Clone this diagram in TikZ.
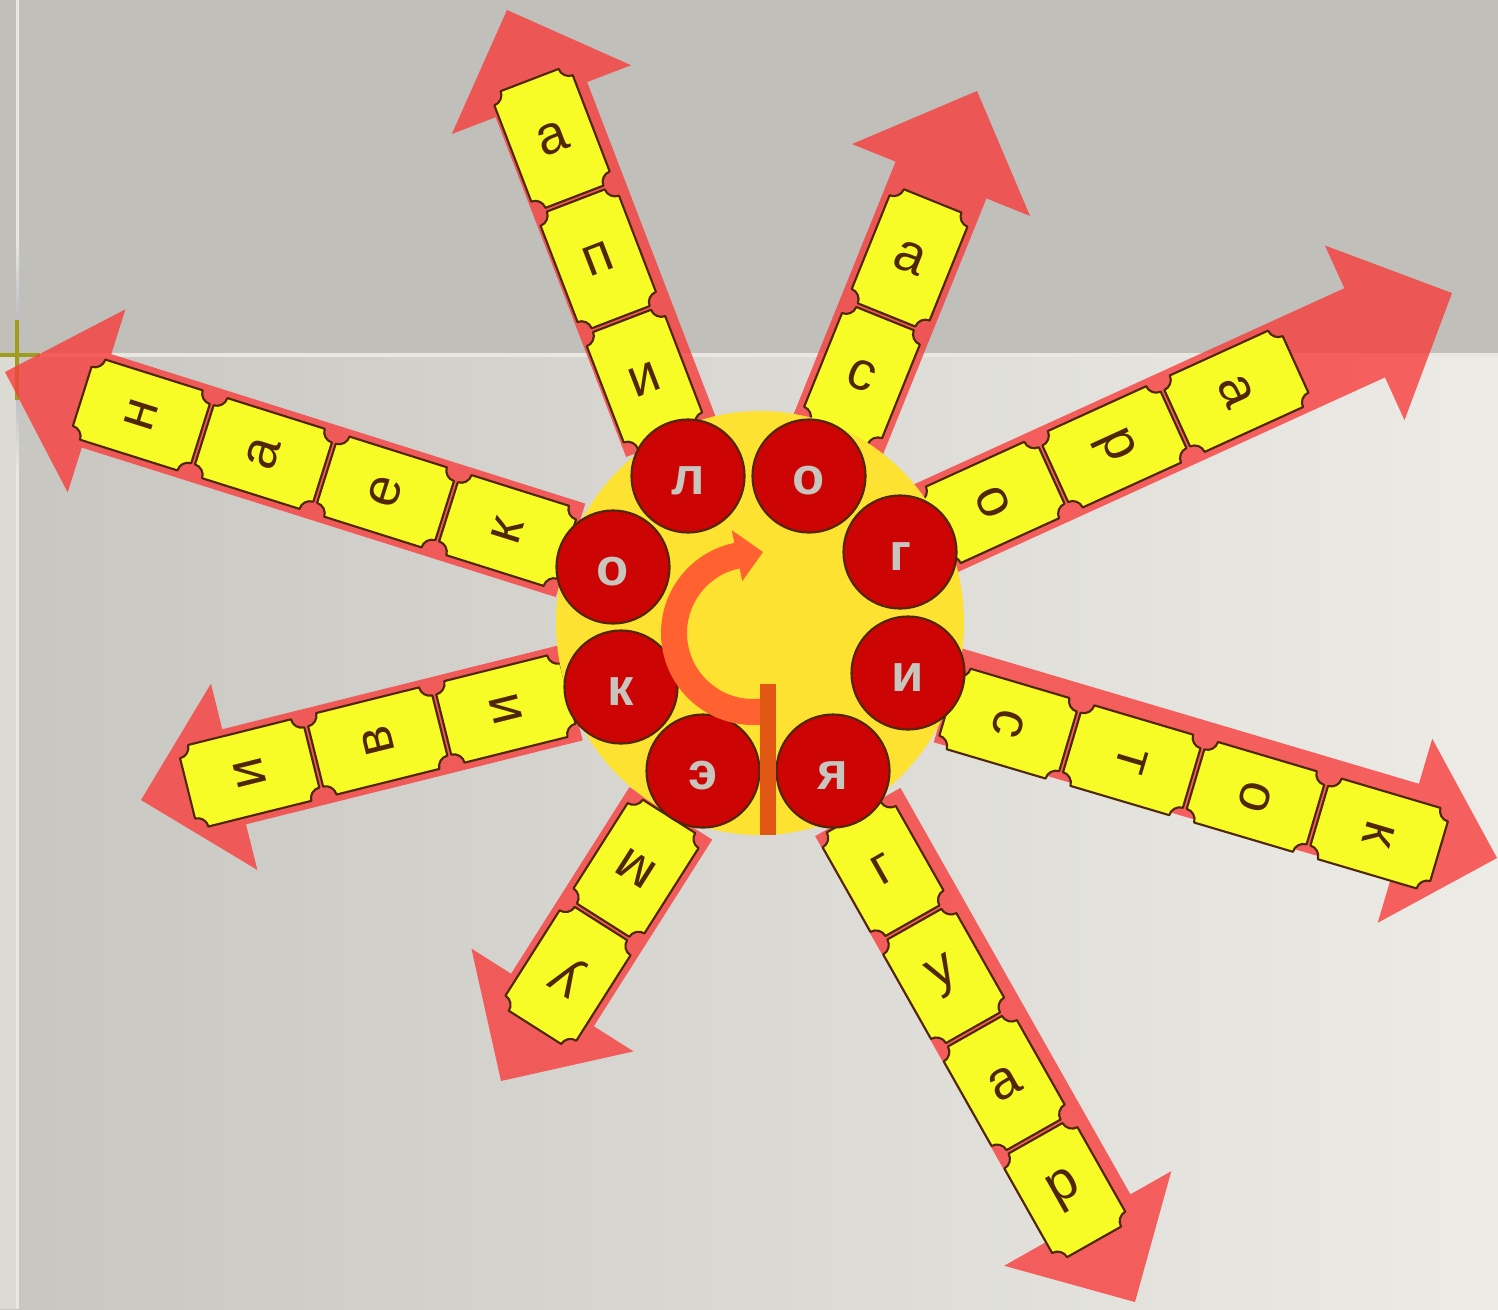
\documentclass[tikz,border=0pt]{standalone}
\usepackage{fontspec}
\setmainfont{Liberation Sans}
\usetikzlibrary{calc}
\definecolor{topgray}{RGB}{192,191,186}
\definecolor{lowleft}{RGB}{199,198,192}
\definecolor{lowright}{RGB}{236,235,229}
\definecolor{stripgray}{RGB}{220,219,211}
\definecolor{linelight}{RGB}{232,231,226}
\definecolor{guideblue}{RGB}{168,170,184}
\definecolor{guideolive}{RGB}{160,156,30}
\definecolor{rayred}{RGB}{248,62,62}
\definecolor{tileyellow}{RGB}{247,252,38}
\definecolor{darkbrown}{RGB}{80,38,5}
\definecolor{discyellow}{RGB}{254,226,50}
\definecolor{circlered}{RGB}{204,4,4}
\definecolor{lettergray}{RGB}{200,196,190}
\definecolor{swirlorange}{RGB}{255,98,48}
\definecolor{barorange}{RGB}{224,88,20}
\tikzset{
  rayshape/.style={fill=rayred, fill opacity=0.8},
  tileshape/.style={fill=tileyellow, draw=darkbrown, line width=0.6pt, line join=round},
  tileletter/.style={text=darkbrown, inner sep=0pt, font=\fontsize{15.5}{18}\selectfont},
  letterdisc/.style={circle, fill=circlered, draw=darkbrown, line width=0.6pt,
    minimum size=1.13cm, inner sep=0pt, text height=0.37cm, text depth=0cm,
    text=lettergray, font=\bfseries\fontsize{15}{18}\selectfont},
}
% ticket with cut corners, centred on the current origin
\newcommand{\drawtile}[1]{%
  \draw[tileshape] (-#1+11,-42) -- (#1-11,-42) arc[start angle=180, end angle=90, radius=11]
    -- (#1,31) arc[start angle=270, end angle=180, radius=11]
    -- (-#1+11,42) arc[start angle=0, end angle=-90, radius=11]
    -- (-#1,-31) arc[start angle=90, end angle=0, radius=11] -- cycle;}
% #1 name, #2 tip, #3 angle, #4 shaft start, #5 first tile, #6 pitch, #7 offset, #8 letter angle, #9 letters
\newcommand{\drawray}[9]{%
  \begin{scope}[shift={#2}, rotate=#3]
    \fill[rayshape] (0,0) -- (-96,-96) -- (-96,-49) -- (-#4,-49) -- (-#4,49) -- (-96,49) -- (-96,96) -- cycle;
    \pgfmathsetmacro{\tilehalf}{(#6-4)/2}
    \foreach \tileltr [count=\i] in {#9} {
      \begin{scope}[shift={({-#5-(\i-1)*#6},#7)}]
        \drawtile{\tilehalf}
        \node[tileletter, rotate=#8] (#1-\i) at (0,0) {\tileltr};
      \end{scope}
    }
  \end{scope}}

\begin{document}
\begin{tikzpicture}[x=0.01cm, y=-0.01cm]
    \useasboundingbox (0,0) rectangle (1498,1309);

    % Draw background
    \fill[topgray] (0,0) rectangle (1498,353);
    \shade[left color=lowleft, right color=lowright] (0,353) rectangle (1498,1309);
    \fill[stripgray] (0,357) rectangle (16,1309);
    \fill[linelight] (16,0) rectangle (19,1309);
    \fill[linelight] (16,353) rectangle (1498,357);
    \shade[top color=linelight, bottom color=linelight, middle color=guideblue] (16,240) rectangle (19,470);
    \fill[guideolive] (0,353) rectangle (40,357);
    \fill[guideolive] (15,320) rectangle (19,400);

    % Draw rays
    \drawray{up}{(507,10)}{111}{460}{136}{129}{-4}{21}{а,п,и}
    \drawray{upright}{(977,91)}{68}{372}{180}{127}{0}{-22}{а,с}
    \drawray{right}{(1452,293)}{24.5}{575}{237}{134}{0}{-65.5}{а,р,о}
    \drawray{left}{(5,372)}{162.5}{593}{143}{128}{0}{72.5}{н,а,е,к}
    \drawray{lowleft}{(141,800)}{194}{443}{112}{132}{0}{104}{и,в,и}
    \drawray{lowright}{(1497,858)}{-16.5}{573}{120}{129}{10}{-106.5}{к,о,т,с}
    \drawray{down}{(501,1081)}{237.6}{317}{125}{127}{0}{147.6}{у,м}
    \drawray{downright}{(1135,1302)}{-60.5}{563}{132}{123}{6}{29.5}{р,а,у,г}

    % Draw centre
    \fill[discyellow] (760,623) ellipse [x radius=204, y radius=212];
    \foreach \cx/\cy/\ltr [count=\k] in {688/476/л, 809/476/о, 900/552/г, 908/673/и,
                                         833/771/я, 703/771/э, 621/687/к, 613/567/о} {
        \node[letterdisc] (ring\k) at (\cx,\cy) {\ltr};
    }

    % Draw swirl and bar
    \coordinate (hub) at (753,633);
    \fill[swirlorange] ($(hub)+(84:92)$) arc[start angle=84, end angle=258.3, radius=92]
        -- ($(hub)+(258.3:105)$) -- (763,552) -- ($(hub)+(258.3:53)$)
        -- ($(hub)+(258.3:66)$) arc[start angle=258.3, end angle=84, radius=66] -- cycle;
    \fill[barorange] (760,684) rectangle (776,835);
\end{tikzpicture}
\end{document}
